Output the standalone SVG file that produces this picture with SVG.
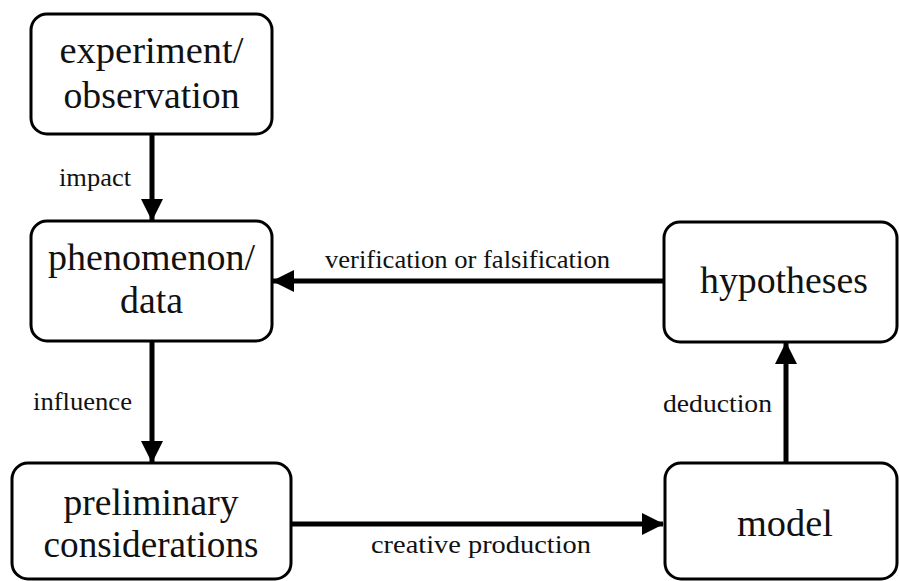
<svg xmlns="http://www.w3.org/2000/svg" width="899" height="581" viewBox="0 0 899 581">
  <style>
    .box { fill: #ffffff; stroke: #000000; stroke-width: 3; }
    .node-text { font-family: "Liberation Serif", "DejaVu Serif", serif; font-size: 37px; fill: #111111; text-anchor: middle; }
    .edge { stroke: #000000; stroke-width: 5; fill: none; marker-end: url(#arrow); }
    .edge-label { font-family: "Liberation Serif", "DejaVu Serif", serif; font-size: 25px; fill: #111111; }
  </style>
  <defs>
    <marker id="arrow" markerUnits="userSpaceOnUse" markerWidth="22" markerHeight="22" viewBox="0 0 22 22" refX="21" refY="11" orient="auto">
      <polygon points="0,0 22,11 0,22" fill="#000000"/>
    </marker>
  </defs>
  <rect width="899" height="581" fill="#ffffff"/>

  <!-- connectors -->
  <g id="connectors">
    <line class="edge" x1="152" y1="134" x2="152" y2="220"/>
    <line class="edge" x1="152" y1="341" x2="152" y2="462"/>
    <line class="edge" x1="664" y1="281" x2="273" y2="281"/>
    <line class="edge" x1="291" y1="524" x2="663" y2="524"/>
    <line class="edge" x1="786" y1="463" x2="786" y2="343"/>
    <text class="edge-label" x="59" y="186" textLength="72" lengthAdjust="spacingAndGlyphs">impact</text>
    <text class="edge-label" x="33" y="410" textLength="99" lengthAdjust="spacingAndGlyphs">influence</text>
    <text class="edge-label" x="663" y="412" textLength="109" lengthAdjust="spacingAndGlyphs">deduction</text>
    <text class="edge-label" x="325" y="268" textLength="285" lengthAdjust="spacingAndGlyphs">verification or falsification</text>
    <text class="edge-label" x="371" y="553" textLength="220" lengthAdjust="spacingAndGlyphs">creative production</text>
  </g>

  <g id="experiment">
    <rect class="box" x="31" y="14" width="241" height="120" rx="16"/>
    <text class="node-text" x="151.5" y="63" textLength="184" lengthAdjust="spacingAndGlyphs">experiment/</text>
    <text class="node-text" x="151.5" y="108" textLength="176" lengthAdjust="spacingAndGlyphs">observation</text>
  </g>

  <g id="phenomenon">
    <rect class="box" x="31" y="221" width="241" height="120" rx="16"/>
    <text class="node-text" x="151.5" y="270" textLength="207" lengthAdjust="spacingAndGlyphs">phenomenon/</text>
    <text class="node-text" x="151.5" y="313" textLength="63" lengthAdjust="spacingAndGlyphs">data</text>
  </g>

  <g id="preliminary">
    <rect class="box" x="12" y="463" width="279" height="116" rx="16"/>
    <text class="node-text" x="151" y="515" textLength="175" lengthAdjust="spacingAndGlyphs">preliminary</text>
    <text class="node-text" x="151" y="557" textLength="215" lengthAdjust="spacingAndGlyphs">considerations</text>
  </g>

  <g id="hypotheses">
    <rect class="box" x="664" y="222" width="233" height="120" rx="16"/>
    <text class="node-text" x="784" y="293" textLength="168" lengthAdjust="spacingAndGlyphs">hypotheses</text>
  </g>

  <g id="model">
    <rect class="box" x="665" y="463" width="232" height="116" rx="16"/>
    <text class="node-text" x="785" y="536" textLength="96" lengthAdjust="spacingAndGlyphs">model</text>
  </g>
</svg>
